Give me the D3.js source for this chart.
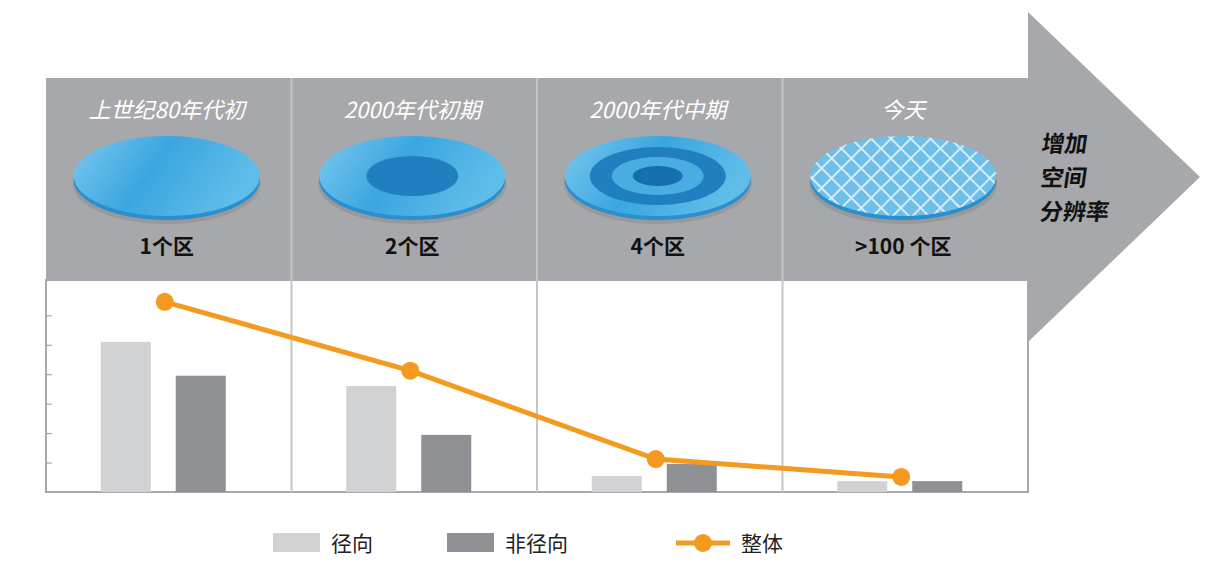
<!DOCTYPE html>
<html><head><meta charset="utf-8">
<script src="https://cdn.jsdelivr.net/npm/d3@7"></script>
<style>body{margin:0;background:#fff}svg{display:block}</style>
</head><body>
<svg id="c" width="1210" height="562"></svg>
<script>
const eras = ["上世纪80年代初", "2000年代初期", "2000年代中期", "今天"];
const zones = ["1个区", "2个区", "4个区", ">100 个区"];
const radial = [5.1, 3.6, 0.54, 0.37];
const nonRadial = [3.95, 1.94, 0.95, 0.37];
const overall = [6.46, 4.12, 1.12, 0.51];
const yTicks = [1, 2, 3, 4, 5, 6];

const svg = d3.select("#c");
const defs = svg.append("defs");
const plotL = 46, plotR = 1028, plotT = 280, base = 492;

const x = d3.scaleBand().domain(eras).range([plotL, plotR]);
const y = d3.scaleLinear().domain([0, 7.2]).range([base, plotT]);

// arrow band
svg.append("path")
  .attr("d", `M${plotL},78 L1028,78 L1028,12 L1200,177 L1028,342 L1028,280 L${plotL},280 Z`)
  .attr("fill", "#a7a8ab");

// disc gradients
const g1 = defs.append("linearGradient").attr("id", "disc").attr("x1", 0).attr("x2", 1).attr("y1", 0).attr("y2", 0.3);
g1.append("stop").attr("offset", 0).attr("stop-color", "#7cc8ee");
g1.append("stop").attr("offset", 0.5).attr("stop-color", "#3aa6e0");
g1.append("stop").attr("offset", 1).attr("stop-color", "#60bde9");
const pat = defs.append("pattern").attr("id", "grid").attr("width", 14).attr("height", 14)
  .attr("patternUnits", "userSpaceOnUse").attr("patternTransform", "rotate(45)");
pat.append("rect").attr("width", 14).attr("height", 14).attr("fill", "#d4ecf9");
pat.append("rect").attr("x", 1).attr("y", 1).attr("width", 12).attr("height", 12).attr("fill", "#6fbfe8");

const cx = i => x(eras[i]) + x.bandwidth() / 2 - 2;
eras.forEach((e, i) => {
  const c = cx(i), cy = 176;
  svg.append("ellipse").attr("cx", c).attr("cy", cy + 8).attr("rx", 94).attr("ry", 40).attr("fill", "#8f9093").attr("opacity", 0.6);
  svg.append("ellipse").attr("cx", c).attr("cy", cy + 4).attr("rx", 93).attr("ry", 40).attr("fill", "#2a8fcc");
  svg.append("ellipse").attr("cx", c).attr("cy", cy).attr("rx", 93).attr("ry", 40).attr("fill", i === 3 ? "url(#grid)" : "url(#disc)");
  if (i === 1) svg.append("ellipse").attr("cx", c).attr("cy", cy).attr("rx", 46).attr("ry", 20).attr("fill", "#1f7fbf");
  if (i === 2) {
    svg.append("ellipse").attr("cx", c).attr("cy", cy).attr("rx", 68).attr("ry", 29).attr("fill", "#1f7fbf");
    svg.append("ellipse").attr("cx", c).attr("cy", cy).attr("rx", 46).attr("ry", 19).attr("fill", "#49ade2");
    svg.append("ellipse").attr("cx", c).attr("cy", cy).attr("rx", 25).attr("ry", 10).attr("fill", "#156fae");
  }
  svg.append("text").attr("x", c).attr("y", 118).attr("text-anchor", "middle")
    .attr("font-family", "Noto Sans CJK SC").attr("font-style", "italic").attr("font-size", 22)
    .attr("fill", "#fff").text(e);
  svg.append("text").attr("x", c).attr("y", 254).attr("text-anchor", "middle")
    .attr("font-family", "Noto Sans CJK SC").attr("font-weight", "bold").attr("font-size", 21)
    .attr("fill", "#111").text(zones[i]);
});

["增加", "空间", "分辨率"].forEach((t, i) => {
  svg.append("text").attr("x", 1040).attr("y", 152 + i * 34)
    .attr("font-family", "Noto Sans CJK SC").attr("font-weight", "bold")
    .attr("font-size", 23).attr("fill", "#111").attr("transform", `skewX(-8)`).attr("dx", 22 + i * 4).text(t);
});

// plot frame
svg.append("rect").attr("x", plotL).attr("y", plotT).attr("width", plotR - plotL).attr("height", base - plotT)
  .attr("fill", "#fff").attr("stroke", "#a7a8ab").attr("stroke-width", 2);
eras.slice(1).forEach(e => {
  svg.append("line").attr("x1", x(e)).attr("x2", x(e)).attr("y1", 78).attr("y2", base)
    .attr("stroke", "#c4c5c7").attr("stroke-width", 2);
});
svg.append("g").attr("transform", `translate(${plotL},0)`)
  .call(d3.axisLeft(y).tickValues(yTicks).tickSize(6).tickFormat(""))
  .call(g => g.select(".domain").remove())
  .selectAll("line").attr("stroke", "#999").attr("transform", "translate(6,0)");

// bars
const bw = 50;
svg.selectAll(".r").data(radial).join("rect").attr("class", "r")
  .attr("x", (d, i) => cx(i) - 66).attr("y", d => y(d)).attr("width", bw).attr("height", d => base - y(d)).attr("fill", "#d1d2d3");
svg.selectAll(".n").data(nonRadial).join("rect").attr("class", "n")
  .attr("x", (d, i) => cx(i) + 9).attr("y", d => y(d)).attr("width", bw).attr("height", d => base - y(d)).attr("fill", "#8f9093");

// line
const pts = overall.map((d, i) => [cx(i) - 2, y(d)]);
svg.append("path").attr("d", d3.line()(pts)).attr("fill", "none").attr("stroke", "#f39a1f").attr("stroke-width", 5);
svg.selectAll(".p").data(pts).join("circle").attr("class", "p").attr("cx", d => d[0]).attr("cy", d => d[1]).attr("r", 9).attr("fill", "#f39a1f");

// legend
const font = "Noto Sans CJK SC";
const lg = svg.append("g");
lg.append("rect").attr("x", 273).attr("y", 533).attr("width", 47).attr("height", 19).attr("fill", "#d1d2d3");
lg.append("text").attr("x", 331).attr("y", 551).attr("font-family", font).attr("font-size", 21).attr("fill", "#222").text("径向");
lg.append("rect").attr("x", 447).attr("y", 533).attr("width", 47).attr("height", 19).attr("fill", "#8f9093");
lg.append("text").attr("x", 505).attr("y", 551).attr("font-family", font).attr("font-size", 21).attr("fill", "#222").text("非径向");
lg.append("line").attr("x1", 676).attr("x2", 730).attr("y1", 543).attr("y2", 543).attr("stroke", "#f39a1f").attr("stroke-width", 5);
lg.append("circle").attr("cx", 703).attr("cy", 543).attr("r", 9).attr("fill", "#f39a1f");
lg.append("text").attr("x", 741).attr("y", 551).attr("font-family", font).attr("font-size", 21).attr("fill", "#222").text("整体");
</script>
</body></html>
